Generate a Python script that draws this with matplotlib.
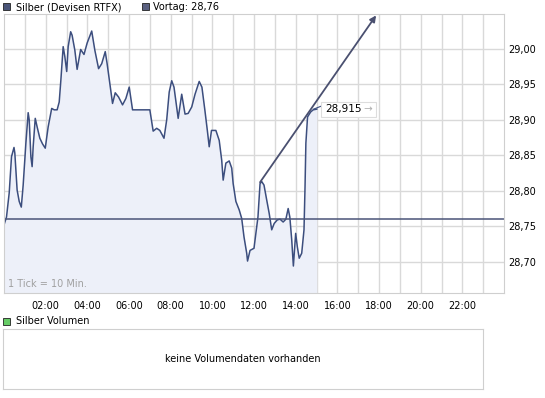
import matplotlib.pyplot as plt
from matplotlib.patches import Rectangle

# Silber Intraday (Stunden, Kurs)
hours = [0.00, 0.12, 0.25, 0.36, 0.48, 0.52, 0.63, 0.73, 0.83, 0.92, 1.05, 1.16, 1.21, 1.29,
         1.35, 1.40, 1.50, 1.59, 1.72, 1.85, 1.98, 2.12, 2.29, 2.41, 2.55, 2.65, 2.73, 2.84,
         2.92, 3.01, 3.08, 3.20, 3.27, 3.40, 3.51, 3.68, 3.84, 3.99, 4.21, 4.36, 4.54, 4.69,
         4.86, 4.95, 5.08, 5.21, 5.34, 5.50, 5.69, 5.85, 6.01, 6.17, 7.00, 7.16, 7.33, 7.48,
         7.68, 7.81, 7.93, 8.05, 8.16, 8.36, 8.53, 8.69, 8.84, 9.01, 9.17, 9.37, 9.50, 9.64,
         9.76, 9.85, 9.96, 10.17, 10.33, 10.45, 10.52, 10.65, 10.81, 10.93, 11.00, 11.13,
         11.29, 11.41, 11.52, 11.65, 11.69, 11.81, 12.00, 12.09, 12.19, 12.29, 12.37, 12.48,
         12.61, 12.73, 12.85, 12.97, 13.12, 13.25, 13.40, 13.53, 13.64, 13.72, 13.81, 13.89,
         14.00, 14.08, 14.17, 14.29, 14.40, 14.45, 14.49, 14.57, 14.72, 14.84, 15.01]
prices = [28.752, 28.763, 28.797, 28.848, 28.861, 28.853, 28.801, 28.785, 28.777, 28.808,
          28.867, 28.910, 28.900, 28.848, 28.834, 28.862, 28.902, 28.890, 28.874, 28.866,
          28.860, 28.890, 28.916, 28.914, 28.914, 28.925, 28.956, 29.003, 28.989, 28.968,
          29.003, 29.024, 29.019, 28.998, 28.971, 28.999, 28.992, 29.008, 29.025, 28.998,
          28.972, 28.979, 28.996, 28.979, 28.951, 28.923, 28.938, 28.932, 28.921, 28.930,
          28.946, 28.914, 28.914, 28.884, 28.888, 28.885, 28.874, 28.900, 28.939, 28.955,
          28.946, 28.902, 28.936, 28.908, 28.909, 28.918, 28.936, 28.954, 28.946, 28.914,
          28.885, 28.862, 28.885, 28.885, 28.871, 28.843, 28.815, 28.839, 28.842, 28.832,
          28.810, 28.785, 28.773, 28.761, 28.735, 28.712, 28.701, 28.716, 28.719, 28.740,
          28.763, 28.810, 28.813, 28.808, 28.787, 28.768, 28.745, 28.754, 28.759, 28.760,
          28.756, 28.760, 28.775, 28.763, 28.731, 28.694, 28.740, 28.721, 28.705, 28.712,
          28.745, 28.806, 28.867, 28.904, 28.911, 28.914, 28.915]
vortag = 28.76
last_label = "28,915"
trend_start = (12.29, 28.812)
trend_end = (17.86, 29.047)
yticks = [28.70, 28.75, 28.80, 28.85, 28.90, 28.95, 29.00]

W, H = 545, 398
fig = plt.figure(figsize=(W / 100, H / 100), dpi=100)
plt.rcParams['font.family'] = 'DejaVu Sans'

line_col = '#3c4e7e'
grid_col = '#d9d9d9'

ax = fig.add_axes([4 / W, (H - 293) / H, 500 / W, 279 / H])
ax.set_xlim(0, 24)
ax.set_ylim(28.656, 29.049)
ax.fill_between(hours, prices, 28.656, color='#edf0f9', lw=0)
ax.plot(hours, prices, color=line_col, lw=1.1)
ax.axhline(vortag, color='#4a5478', lw=1.1)

ax.set_xticks(range(1, 24))
ax.set_yticks(yticks)
ax.grid(True, color=grid_col, lw=1.0)
ax.set_axisbelow(True)
ax.tick_params(length=0)
ax.set_xticklabels([f"{h:02d}:00" if h % 2 == 0 else "" for h in range(1, 24)],
                   fontsize=7)
ax.yaxis.tick_right()
ax.set_yticklabels([f"{v:.2f}".replace('.', ',') for v in yticks], fontsize=7)
ax.tick_params(axis='x', pad=6)
ax.tick_params(axis='y', pad=3)
for s in ax.spines.values():
    s.set_color('#cfcfcf')

# Trendpfeil
ax.annotate("", xy=trend_end, xytext=trend_start,
            arrowprops=dict(arrowstyle='-|>', color='#4a5070', lw=1.3,
                            mutation_scale=9, shrinkA=0, shrinkB=0),
            annotation_clip=False)

# Letzter Kurs Label
bx = hours[-1] + 0.2
ax.plot([hours[-1] - 0.15, bx], [prices[-1], prices[-1] + 0.004], color=line_col, lw=0.8)
ax.add_patch(Rectangle((bx, prices[-1] - 0.0105), 2.64, 0.021, facecolor='white',
                       edgecolor='#dddddd', lw=0.8, zorder=5))
ax.text(bx + 0.2, prices[-1], last_label, fontsize=7.5, va='center', ha='left', zorder=6)
ax.text(bx + 2.05, prices[-1], "→", fontsize=7.5, color='#b0b0b0', va='center',
        ha='left', zorder=6)

ax.text(0.008, 0.015, "1 Tick = 10 Min.", transform=ax.transAxes, fontsize=7,
        color='#a0a0a0', va='bottom', ha='left')

# Legende oben
fig.patches.append(Rectangle((3 / W, 1 - 10 / H), 7 / W, 7 / H, transform=fig.transFigure,
                             facecolor='#4a5478', edgecolor='#222222', lw=0.6))
fig.text(16 / W, 1 - 7 / H, "Silber (Devisen RTFX)", fontsize=7, va='center')
fig.patches.append(Rectangle((142 / W, 1 - 10 / H), 7 / W, 7 / H, transform=fig.transFigure,
                             facecolor='#5a6080', edgecolor='#222222', lw=0.6))
fig.text(153 / W, 1 - 7 / H, "Vortag: 28,76", fontsize=7, va='center')

# Volumen
fig.patches.append(Rectangle((3 / W, 1 - 325 / H), 7 / W, 7 / H, transform=fig.transFigure,
                             facecolor='#66cc66', edgecolor='#222222', lw=0.6))
fig.text(16 / W, 1 - 321.5 / H, "Silber Volumen", fontsize=7, va='center')

axv = fig.add_axes([3 / W, (H - 389) / H, 480 / W, 60 / H])
axv.set_xticks([])
axv.set_yticks([])
for s in axv.spines.values():
    s.set_color('#cfcfcf')
axv.text(0.5, 0.5, "keine Volumendaten vorhanden", transform=axv.transAxes,
         fontsize=7, ha='center', va='center')

fig.savefig("out.png", dpi=100)
